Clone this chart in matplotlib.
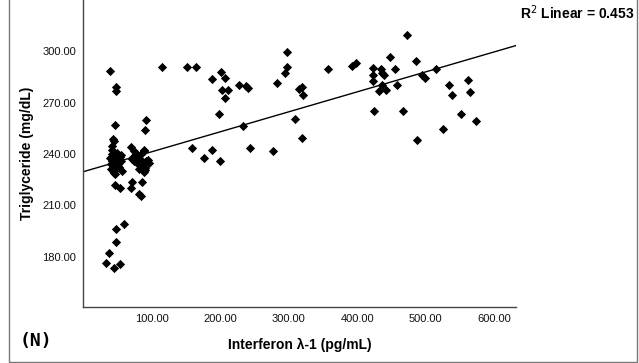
import numpy as np
import matplotlib
matplotlib.use("Agg")
import matplotlib.pyplot as plt
from matplotlib.patches import Rectangle

plt.rcParams['font.family'] = ['Liberation Sans', 'DejaVu Sans']

# Interferon lambda-1 (pg/mL) vs triglyceride (mg/dL)
ifn_low = [39, 47.5, 47.5, 46.5, 44, 45, 41.7, 41.5, 42, 40, 42.7, 41, 40.2, 43, 45, 47,
           50, 50, 53.8, 50, 52, 55, 57, 48, 46, 53, 56,
           46.5, 53.8, 59.7, 47.5, 47.5, 37.8, 33, 45, 53.4]
tg_low = [288.5, 279, 276.9, 256.7, 249, 247.5, 244.6, 242.1, 239.8, 237.4, 235.9, 233.9, 231, 230, 229, 228.5,
          232, 236.8, 238.4, 240.8, 234.5, 236, 230, 233, 238, 232.5, 239.5,
          221.8, 219.9, 198.8, 195.9, 188.7, 181.9, 176, 173.5, 175.8]

ifn_mid = [69.4, 75, 77, 73, 71, 74, 79, 83, 81, 85, 88, 91, 90.5, 89, 92, 96, 95, 88.8, 89, 80, 84,
           71.8, 70.4, 81.5, 84, 86.4, 91.2, 90.2]
tg_mid = [244, 241.5, 240, 238.5, 237, 236, 235, 233.5, 231.5, 236.5, 234, 232, 230.8, 229.5, 236, 234.9, 236.7,
          241.7, 242.5, 238.5, 240,
          223.6, 219.9, 216.4, 215.4, 223.6, 259.6, 253.8]

ifn_high = [115, 151, 165, 158.7, 177, 188, 188, 200, 197.6, 200.6, 206.6, 203, 212, 206.6, 228,
            237, 241, 233, 243.7, 276.6, 282.6, 297.6, 297, 294.6, 309.6, 315.6, 320, 321, 320,
            357, 393, 398, 423, 423, 423, 424, 431, 435, 436, 439, 436.5, 442.5, 448, 455.7,
            457.6, 467, 472.5, 485.6, 487.4, 494.6, 499, 514.4, 525, 534, 538, 550.9, 562, 565, 573]
tg_high = [290.6, 290.6, 290.6, 243.5, 237.5, 242.5, 283.8, 236, 263.6, 287.8, 284.4, 277.4, 277.4, 272.7, 280.5,
           279.5, 278.5, 256.6, 243.5, 241.6, 281.5, 299.6, 290.6, 287.5, 260.5, 278.2, 279, 274.3, 249.3,
           289.5, 291.2, 293.2, 290.5, 286, 282.5, 265.3, 276.6, 289.8, 287.4, 286.4, 280.5, 277.4, 296.7, 289.5,
           280.3, 265.3, 309.5, 294.3, 248.4, 286.4, 284.4, 289.5, 254.6, 280.3, 274.5, 263.6, 283.4, 276.4, 259.3]

x = np.array(ifn_low + ifn_mid + ifn_high)
y = np.array(tg_low + tg_mid + tg_high)

slope, intercept = np.polyfit(x, y, 1)

fig = plt.figure(figsize=(6.39, 3.63), dpi=100)
ax = fig.add_axes([0.130, 0.154, 0.678, 0.846])

ax.scatter(x, y, marker='D', s=22, color='black', linewidths=0, zorder=3)

xlim = (0, 632)
xx = np.array(xlim)
ax.plot(xx, intercept + slope * xx, color='black', lw=1.0, zorder=2)

ax.set_xlim(*xlim)
ax.set_ylim(150.5, 330)
ax.set_xticks([100, 200, 300, 400, 500, 600])
ax.set_yticks([180, 210, 240, 270, 300])
ax.xaxis.set_major_formatter(plt.FuncFormatter(lambda v, p: f"{v:.2f}"))
ax.yaxis.set_major_formatter(plt.FuncFormatter(lambda v, p: f"{v:.2f}"))
ax.tick_params(length=0, labelsize=8, pad=5, colors='#111111')

for side in ['top', 'right']:
    ax.spines[side].set_visible(False)
for side in ['left', 'bottom']:
    ax.spines[side].set_color('#444444')
    ax.spines[side].set_linewidth(1.0)

ax.set_xlabel('Interferon λ-1 (pg/mL)', fontsize=10, fontweight='bold', labelpad=10)
ax.set_ylabel('Triglyceride (mg/dL)', fontsize=10, fontweight='bold', labelpad=6)

fig.text(634 / 639, 1 - 13 / 363, r'R$^2$ Linear = 0.453', ha='right', va='center',
         fontsize=10, fontweight='bold')
fig.text(20 / 639, 1 - 341 / 363, '(N)', ha='left', va='center', fontsize=13,
         fontweight='bold', family='DejaVu Sans Mono')

# outer panel frame
fig.patches.append(Rectangle((9 / 639, 1 / 363), 628 / 639, 1.1, transform=fig.transFigure,
                             fill=False, edgecolor='#777777', lw=1.0))

fig.savefig('out.png', dpi=100)
